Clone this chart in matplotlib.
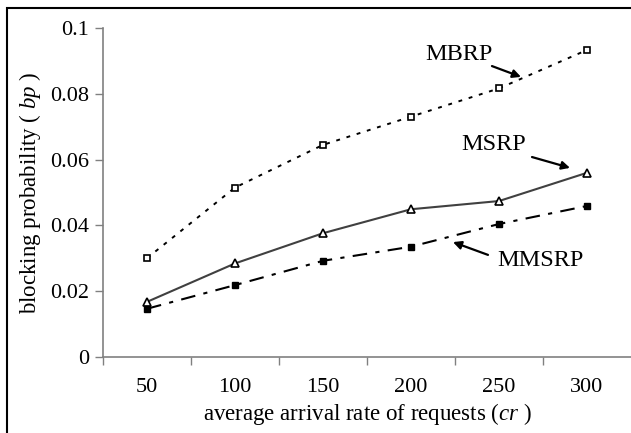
import matplotlib
matplotlib.use("Agg")
import matplotlib.pyplot as plt
from matplotlib.patches import Rectangle
import numpy as np

plt.rcParams['font.family'] = ['Liberation Serif', 'DejaVu Serif']
plt.rcParams['mathtext.fontset'] = 'custom'
plt.rcParams['mathtext.rm'] = 'Liberation Serif'
plt.rcParams['mathtext.it'] = 'Liberation Serif:italic'

# data
rates = ['50', '100', '150', '200', '250', '300']
mbrp = [0.0300, 0.0515, 0.0645, 0.0731, 0.0817, 0.0934]
msrp = [0.0167, 0.0284, 0.0376, 0.0449, 0.0474, 0.0560]
mmsrp = [0.0146, 0.0218, 0.0292, 0.0335, 0.0404, 0.0459]
yticks = [0, 0.02, 0.04, 0.06, 0.08, 0.1]
ytick_labels = ['0', '0.02', '0.04', '0.06', '0.08', '0.1']

x = np.arange(len(rates))
axis_grey = '#808080'

fig = plt.figure(figsize=(6.31, 4.33), dpi=100)
ax = fig.add_axes([103/631, 1 - 356.7/433, 1 - 103/631, (356.7 - 28.3)/433])

ax.plot(x, mbrp, color='black', lw=1.4, linestyle=(0, (2, 3.5)),
        marker='s', markersize=5, markerfacecolor='white',
        markeredgecolor='black', markeredgewidth=1.2)
ax.plot(x, msrp, color='#404040', lw=1.5, linestyle='-',
        marker='^', markersize=6, markerfacecolor='white',
        markeredgecolor='black', markeredgewidth=1.2)
ax.plot(x, mmsrp, color='black', lw=1.5, linestyle=(0, (7, 4, 2, 4)),
        marker='s', markersize=5, markerfacecolor='black',
        markeredgecolor='black')

ax.set_xlim(-0.5, len(rates) - 0.5)
ax.set_ylim(0, 0.1)
ax.set_yticks(yticks)
ax.set_yticklabels(ytick_labels)
ax.set_xticks(x)
ax.set_xticklabels(rates)
ax.set_xticks(np.arange(len(rates)) - 0.5, minor=True)
ax.tick_params(axis='x', which='major', length=0, labelsize=16, pad=15)
ax.tick_params(axis='x', which='minor', length=6, width=1, color=axis_grey)
ax.tick_params(axis='y', length=6, width=1, color=axis_grey, labelsize=16, pad=4)

for side in ['top', 'right']:
    ax.spines[side].set_visible(False)
for side in ['left', 'bottom']:
    ax.spines[side].set_color(axis_grey)
    ax.spines[side].set_linewidth(1.2)

ax.set_xlabel(r'average arrival rate of requests ($\mathit{cr}$ )', fontsize=16.5)
ax.xaxis.set_label_coords(0.5, -(414 - 356.7) / 328.4)
ax.xaxis.label.set_verticalalignment('center')
ax.set_ylabel(r'blocking probability ( $\mathit{bp}$ )', fontsize=16.5)
ax.yaxis.set_label_coords(-(103 - 30) / 528, 0.5)
ax.yaxis.label.set_verticalalignment('center')

# curve labels with arrows
arrow = dict(arrowstyle='-|>', color='black', lw=1.6, mutation_scale=12,
             shrinkA=0, shrinkB=0)
ax.text(3.545, 0.0919, 'MBRP', fontsize=17.5, ha='center', va='center')
ax.annotate('', xy=(4.25, 0.0852), xytext=(3.92, 0.0885), arrowprops=arrow)
ax.text(3.94, 0.0645, 'MSRP', fontsize=17.5, ha='center', va='center')
ax.annotate('', xy=(4.807, 0.0575), xytext=(4.375, 0.0608), arrowprops=arrow)
ax.text(4.466, 0.0294, 'MMSRP', fontsize=17.5, ha='center', va='center')
ax.annotate('', xy=(3.477, 0.0349), xytext=(3.875, 0.031), arrowprops=arrow)

# outer frame (left and top edges visible)
fig.patches.append(Rectangle((7/631, -0.1), 1.2, 1 - 8/433 + 0.1,
                             transform=fig.transFigure, fill=False,
                             edgecolor='black', lw=1.5))

fig.savefig('out.png', dpi=100)
